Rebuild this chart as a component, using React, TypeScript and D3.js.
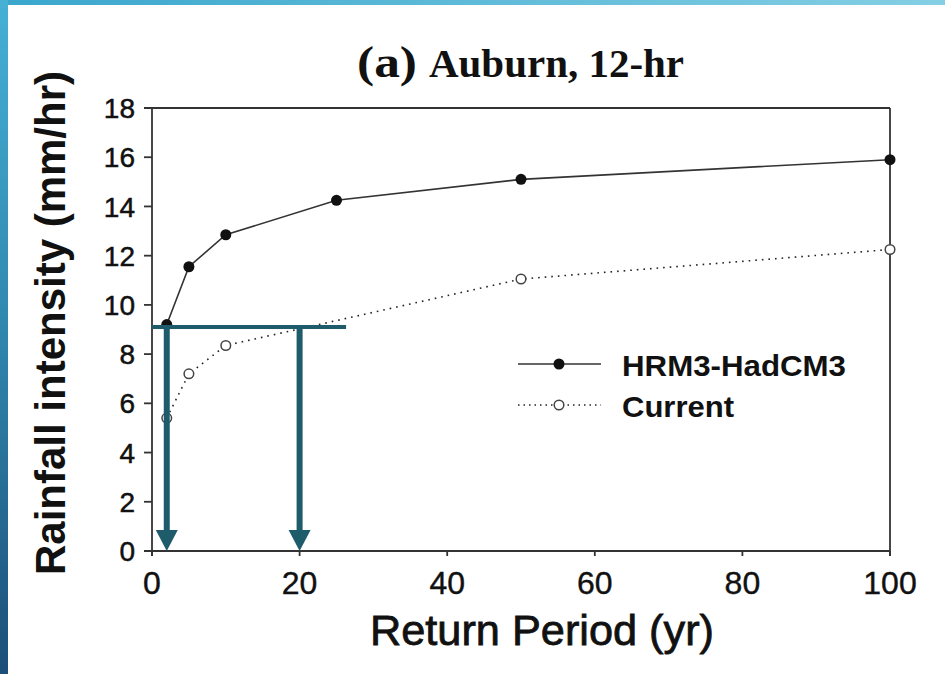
import React from "react";
import * as d3 from "d3";

const futurePeriods = [2, 5, 10, 25, 50, 100];
const futureValues = [9.2, 11.55, 12.85, 14.25, 15.1, 15.9];
const currentPeriods = [2, 5, 10, 50, 100];
const currentValues = [5.4, 7.2, 8.35, 11.05, 12.25];
const xTicks = [0, 20, 40, 60, 80, 100];
const yTicks = [0, 2, 4, 6, 8, 10, 12, 14, 16, 18];
const seriesNames = ["HRM3-HadCM3", "Current"];
const thresholdLevel = [9.1];
const thresholdEnd = [26.3];
const arrowPeriods = [2, 20];

const W = 945;
const H = 674;
const teal = "#1f5c6b";
const axisColor = "#333";

export default function App() {
  React.useEffect(() => {
    document.body.style.margin = "0";
  }, []);
  const x = d3.scaleLinear().domain([0, 100]).range([152, 890]);
  const y = d3.scaleLinear().domain([0, 18]).range([551, 108]);
  const line = d3
    .line<[number, number]>()
    .x((d) => x(d[0]))
    .y((d) => y(d[1]));
  const fut: [number, number][] = futurePeriods.map((p, i) => [p, futureValues[i]]);
  const cur: [number, number][] = currentPeriods.map((p, i) => [p, currentValues[i]]);
  const sans = "'Liberation Sans', Arial, Helvetica, sans-serif";
  const serif = "'Liberation Serif', 'Times New Roman', serif";
  const lvl = y(thresholdLevel[0]);
  const x0 = x(0);
  const yb = y(0);
  return (
    <svg width={W} height={H} style={{ position: "absolute", left: 0, top: 0, display: "block" }}>
      <defs>
        <linearGradient id="leftBar" x1="0" y1="0" x2="0" y2="1">
          <stop offset="0%" stopColor="#46b0d5" />
          <stop offset="50%" stopColor="#2f86ad" />
          <stop offset="100%" stopColor="#1c4f79" />
        </linearGradient>
        <linearGradient id="topBar" x1="0" y1="0" x2="1" y2="0">
          <stop offset="0%" stopColor="#3aa6cc" />
          <stop offset="100%" stopColor="#84cfe4" />
        </linearGradient>
      </defs>
      <rect x={0} y={0} width={W} height={H} fill="#ffffff" />
      <rect x={0} y={0} width={W} height={5} fill="url(#topBar)" />
      <rect x={0} y={0} width={8} height={H} fill="url(#leftBar)" />

      {/* Title */}
      <text x={357} y={77} fontFamily={serif} fontWeight="bold" fontSize={44} fill="#111" textLength={60} lengthAdjust="spacingAndGlyphs">
        (a)
      </text>
      <text x={429} y={77} fontFamily={serif} fontWeight="bold" fontSize={40} fill="#111" textLength={255} lengthAdjust="spacingAndGlyphs">
        Auburn, 12-hr
      </text>

      {/* Frame */}
      <line x1={144} x2={x(100)} y1={y(18)} y2={y(18)} stroke={axisColor} strokeWidth={1.8} />
      <line x1={x(100)} x2={x(100)} y1={y(18)} y2={yb + 5} stroke={axisColor} strokeWidth={1.8} />
      <line x1={144} x2={x(100)} y1={yb} y2={yb} stroke={axisColor} strokeWidth={1.8} />
      <line x1={x0} x2={x0} y1={y(18)} y2={yb + 5} stroke={axisColor} strokeWidth={1.8} />

      {yTicks.map((t) => (
        <g key={"y" + t}>
          <line x1={144} x2={x0} y1={y(t)} y2={y(t)} stroke={axisColor} strokeWidth={1.8} />
          <text x={135} y={y(t)} dy="0.36em" textAnchor="end" fontFamily={sans} fontSize={28} fill="#111" stroke="#111" strokeWidth={0.5}>
            {t}
          </text>
        </g>
      ))}
      {xTicks.map((t) => (
        <g key={"x" + t}>
          <line x1={x(t)} x2={x(t)} y1={yb} y2={yb + 5} stroke={axisColor} strokeWidth={1.8} />
          <text x={x(t)} y={594} textAnchor="middle" fontFamily={sans} fontSize={32} fill="#111" stroke="#111" strokeWidth={0.4}>
            {t}
          </text>
        </g>
      ))}

      {/* Axis titles */}
      <text x={542} y={645} textAnchor="middle" fontFamily={sans} fontSize={43} fill="#111" stroke="#111" strokeWidth={0.8} textLength={344} lengthAdjust="spacingAndGlyphs">
        Return Period (yr)
      </text>
      <text
        transform={`translate(65,${323}) rotate(-90)`}
        textAnchor="middle"
        fontFamily={sans}
        fontWeight="bold"
        fontSize={42}
        fill="#111"
      >
        Rainfall intensity (mm/hr)
      </text>

      {/* Series */}
      <path d={line(cur) || ""} fill="none" stroke="#222" strokeWidth={1.6} strokeDasharray="1.6,5" />
      <path d={line(fut) || ""} fill="none" stroke="#333" strokeWidth={1.6} />
      {fut.map((d, i) => (
        <circle key={"f" + i} cx={x(d[0])} cy={y(d[1])} r={5.5} fill="#111" />
      ))}
      {cur.map((d, i) => (
        <circle key={"c" + i} cx={x(d[0])} cy={y(d[1])} r={4.8} fill="#fff" stroke="#444" strokeWidth={1.5} />
      ))}

      {/* Annotation */}
      <line x1={x0} x2={x(thresholdEnd[0])} y1={lvl} y2={lvl} stroke={teal} strokeWidth={4} />
      {arrowPeriods.map((p) => {
        const ax = x(p);
        return (
          <g key={"a" + p}>
            <line x1={ax} x2={ax} y1={lvl} y2={yb - 18} stroke={teal} strokeWidth={6} />
            <path d={`M${ax - 11},${yb - 21} L${ax + 11},${yb - 21} L${ax},${yb} Z`} fill={teal} />
          </g>
        );
      })}

      {/* Legend */}
      <line x1={518} x2={601} y1={364} y2={364} stroke="#333" strokeWidth={1.6} />
      <circle cx={559} cy={364} r={5.5} fill="#111" />
      <text x={622} y={376} fontFamily={sans} fontWeight="bold" fontSize={30} fill="#111" textLength={224} lengthAdjust="spacingAndGlyphs">
        {seriesNames[0]}
      </text>
      <line x1={518} x2={601} y1={405} y2={405} stroke="#222" strokeWidth={1.6} strokeDasharray="1.5,4" />
      <circle cx={559} cy={405} r={4.8} fill="#fff" stroke="#444" strokeWidth={1.5} />
      <text x={622} y={417} fontFamily={sans} fontWeight="bold" fontSize={30} fill="#111" textLength={112} lengthAdjust="spacingAndGlyphs">
        {seriesNames[1]}
      </text>
    </svg>
  );
}
